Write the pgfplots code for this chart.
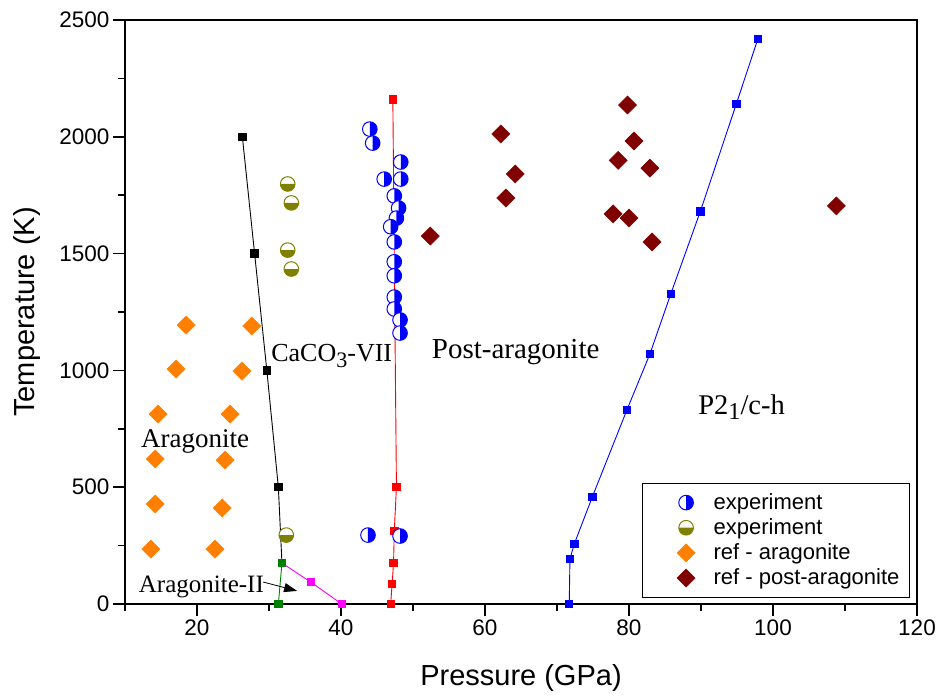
\documentclass[border=0pt]{standalone}
\usepackage{pgfplots}
\pgfplotsset{compat=1.18}
\usepackage{fontspec}
\setmainfont{Liberation Sans}
\newfontfamily\tnr{Liberation Serif}
\usetikzlibrary{arrows.meta}

\definecolor{reforange}{RGB}{255,128,0}
\definecolor{refdark}{RGB}{128,0,0}
\definecolor{expolive}{RGB}{128,128,0}
\definecolor{linegreen}{RGB}{0,128,0}
\definecolor{linemag}{RGB}{255,0,255}

% circle, right half filled blue
\pgfdeclareplotmark{halfblue}{%
  \pgfsetfillcolor{white}%
  \pgfpathcircle{\pgfpointorigin}{\pgfplotmarksize}\pgfusepathqfill
  \pgfsetfillcolor{blue}%
  \pgfpathmoveto{\pgfqpoint{0pt}{\pgfplotmarksize}}%
  \pgfpatharc{90}{-90}{\pgfplotmarksize}%
  \pgfpathclose\pgfusepathqfill
  \pgfsetstrokecolor{blue}%
  \pgfpathcircle{\pgfpointorigin}{\pgfplotmarksize}\pgfusepathqstroke
}
% circle, lower half filled olive
\pgfdeclareplotmark{halfolive}{%
  \pgfsetfillcolor{white}%
  \pgfpathcircle{\pgfpointorigin}{\pgfplotmarksize}\pgfusepathqfill
  \pgfsetfillcolor{expolive}%
  \pgfpathmoveto{\pgfqpoint{-\pgfplotmarksize}{0pt}}%
  \pgfpatharc{180}{360}{\pgfplotmarksize}%
  \pgfpathclose\pgfusepathqfill
  \pgfsetstrokecolor{expolive}%
  \pgfpathcircle{\pgfpointorigin}{\pgfplotmarksize}\pgfusepathqstroke
}

\newcommand\sub[1]{\raisebox{-0.42ex}{\scalebox{0.85}{#1}}}

\begin{document}
\begin{tikzpicture}
\begin{axis}[
  scale only axis,
  width=792pt, height=584pt,
  xmin=10, xmax=120, ymin=0, ymax=2500,
  xtick={20,40,...,120}, minor xtick={10,30,...,110},
  ytick={0,500,...,2500}, minor ytick={250,750,...,2250},
  tick align=outside, tick pos=left,
  major tick length=12pt, minor tick length=7pt,
  every tick/.style={black, line width=1.5pt},
  axis line style={line width=1.8pt},
  ticklabel style={font=\fontsize{22.5}{27}\selectfont},
  /pgf/number format/assume math mode=true,
  /pgf/number format/1000 sep={},
  xlabel={Pressure (GPa)}, ylabel={Temperature (K)},
  label style={font=\fontsize{29}{34}\selectfont},
  xlabel style={at={(rel axis cs:0.5,-0.127)}, anchor=center},
  ylabel style={at={(rel axis cs:-0.124,0.5)}, anchor=center},
  legend style={at={(rel axis cs:0.991,0.0103)}, anchor=south east,
    draw=black, line width=0.8pt, font=\fontsize{22}{25}\selectfont,
    inner xsep=8pt, inner ysep=7pt,
    nodes={inner xsep=2pt, inner ysep=3.5pt, text depth=0.22em},
    cells={anchor=west}},
  legend image code/.code={\draw[#1] plot coordinates {(0pt,0pt)};
    \path (-35pt,0pt) (25pt,0pt);},
]
% phase boundaries
\addplot[black, line width=0.9pt, mark=square*, mark size=3.7pt, forget plot]
  coordinates {(26.3,2000) (28.0,1500) (29.7,1000) (31.3,500) (31.8,175)};
\addplot[linemag, line width=0.9pt, mark=square*, mark size=3.7pt, forget plot]
  coordinates {(31.8,175) (35.8,94) (40.1,0)};
\addplot[linegreen, line width=0.9pt, mark=square*, mark size=3.7pt, forget plot]
  coordinates {(31.8,175) (31.3,0)};
\addplot[red, line width=0.9pt, mark=square*, mark size=3.7pt, forget plot]
  coordinates {(47.2,2160) (47.7,500) (47.4,312) (47.3,175) (47.1,86) (46.9,0)};
\addplot[blue, line width=0.9pt, mark=square*, mark size=3.7pt, forget plot]
  coordinates {(97.9,2419) (94.9,2140) (89.9,1680) (85.8,1327) (82.9,1070)
    (79.7,830) (74.9,458) (72.4,257) (71.8,193) (71.7,0)};
% data
\addplot[only marks, mark=halfblue, mark size=7.3pt, line width=1pt]
  coordinates {(44.0,2033) (44.4,1973) (48.3,1892) (46.0,1819) (48.3,1819)
    (47.4,1747) (48.0,1695) (47.7,1652) (46.9,1615) (47.4,1550) (47.4,1465)
    (47.4,1405) (47.4,1314) (47.4,1263) (48.2,1216) (48.2,1160)
    (43.75,295) (48.2,291)};
\addlegendentry{experiment}
\addplot[only marks, mark=halfolive, mark size=7.3pt, line width=1pt]
  coordinates {(32.6,1798) (33.1,1717) (32.6,1515) (33.1,1434) (32.4,295)};
\addlegendentry{experiment}
\addplot[only marks, mark=square*, mark size=6.4pt,
  mark options={rotate=45, fill=reforange, draw=reforange, line width=0.5pt}]
  coordinates {(18.5,1194) (27.6,1190) (17.1,1006) (26.25,997) (14.6,813)
    (24.6,813) (14.2,621) (23.9,616) (14.2,428) (23.5,411) (13.6,235) (22.5,235)};
\addlegendentry{ref - aragonite}
\addplot[only marks, mark=square*, mark size=6.4pt,
  mark options={rotate=45, fill=refdark, draw=refdark, line width=0.5pt}]
  coordinates {(62.2,2012) (64.2,1841) (52.4,1575) (62.9,1738) (79.8,2136)
    (80.7,1982) (78.5,1899) (82.9,1866) (77.8,1670) (80.0,1652) (83.2,1550)
    (108.8,1704)};
\addlegendentry{ref - post-aragonite}

% phase labels
\node[anchor=base west, inner sep=0pt, font=\tnr\fontsize{27}{30}\selectfont]
  at (axis cs:12.2,672) {Aragonite};
\node[anchor=base west, inner sep=0pt, font=\tnr\fontsize{26}{30}\selectfont]
  at (axis cs:30.3,1036) {CaCO\sub{3}-VII};
\node[anchor=base west, inner sep=0pt, font=\tnr\fontsize{29}{32}\selectfont]
  at (axis cs:52.6,1053) {Post-aragonite};
\node[anchor=base west, inner sep=0pt, font=\tnr\fontsize{28.5}{32}\selectfont]
  at (axis cs:89.6,813) {P2\sub{1}/c-h};
\node[anchor=base west, inner sep=0pt, font=\tnr\fontsize{25}{28}\selectfont]
  at (axis cs:11.9,51) {Aragonite-II};
\draw[line width=0.8pt, -{Triangle[length=13pt,width=9pt]}]
  (axis cs:29.2,94) -- (axis cs:33.9,56);
\end{axis}
\pgfresetboundingbox
\path (current axis.south west) +(-125pt,-95pt)
  (current axis.north east) +(21pt,20pt);
\end{tikzpicture}
\end{document}
